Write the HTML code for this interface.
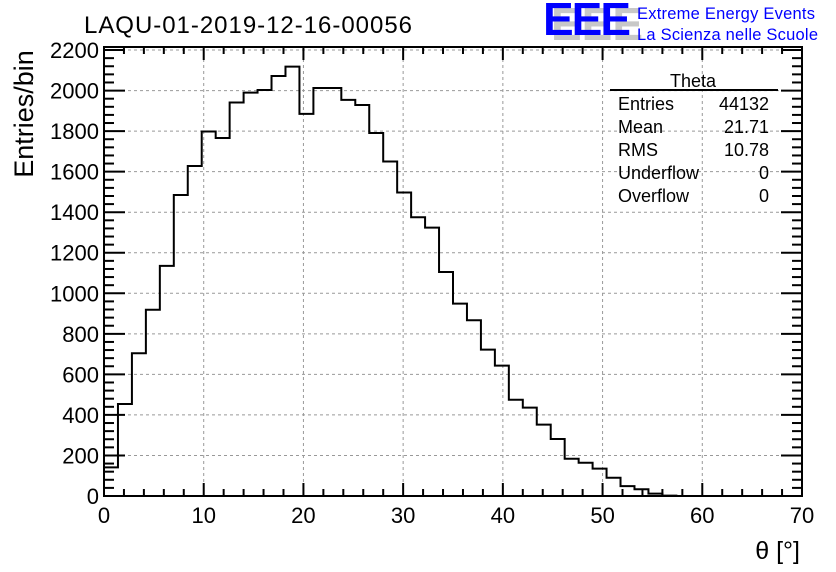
<!DOCTYPE html>
<html><head><meta charset="utf-8"><style>
body{margin:0;background:#fff;}
svg{display:block;font-family:"Liberation Sans",sans-serif;}
</style></head><body>
<svg id="chart" width="836" height="572" viewBox="0 0 836 572" xmlns="http://www.w3.org/2000/svg">
<rect width="836" height="572" fill="#fff"/>
<g id="grid"></g>
<g id="ticks"></g>
<path id="hist" fill="none" stroke="#000" stroke-width="2"/>
<rect x="104" y="47" width="698" height="449" fill="none" stroke="#000" stroke-width="2"/>
<g id="labels" font-size="22"></g>
<text x="84" y="33" font-size="24" textLength="328">LAQU-01-2019-12-16-00056</text>
<text transform="translate(33,114) rotate(-90)" font-size="27" text-anchor="middle" x="0" y="0">Entries/bin</text>
<text x="800" y="559" font-size="25" text-anchor="end">θ [°]</text>
<g>
<text x="551" y="40" font-size="46" fill="#c8c8c8" font-weight="bold" textLength="92">EEE</text>
<text x="543" y="35" font-size="46" fill="#0000ff" font-weight="bold" textLength="88">EEE</text>
<text x="637" y="19" font-size="16.5" fill="#0000ff" textLength="178">Extreme Energy Events</text>
<text x="637" y="40" font-size="16.5" fill="#0000ff" textLength="181">La Scienza nelle Scuole</text>
</g>
<g font-size="18">
<text x="693" y="87" text-anchor="middle">Theta</text>
<line x1="610" y1="90" x2="778" y2="90" stroke="#000" stroke-width="2"/>
<text x="618" y="110">Entries</text><text x="769" y="110" text-anchor="end">44132</text>
<text x="618" y="133">Mean</text><text x="769" y="133" text-anchor="end">21.71</text>
<text x="618" y="156">RMS</text><text x="769" y="156" text-anchor="end">10.78</text>
<text x="618" y="179">Underflow</text><text x="769" y="179" text-anchor="end">0</text>
<text x="618" y="202">Overflow</text><text x="769" y="202" text-anchor="end">0</text>
</g>
</svg>
<script>
const binCounts = [141,454,704,919,1135,1485,1628,1798,1766,1941,1990,2003,2072,2118,1885,2013,2013,1954,1929,1791,1650,1497,1375,1324,1105,949,867,722,643,475,436,352,281,184,164,135,90,49,33,12,2,0,0,0,0,0,0,0,0,0];
const xTicks = [0,10,20,30,40,50,60,70];
const yTicks = [0,200,400,600,800,1000,1200,1400,1600,1800,2000,2200];
const xMin = 0, xMax = 70, yMin = 0, yMax = 2215;
const L=104,R=802,T=47,B=496;
const sx = v => L + (v-xMin)/(xMax-xMin)*(R-L);
const sy = v => B - (v-yMin)/(yMax-yMin)*(B-T);
const NS="http://www.w3.org/2000/svg";
const bw=(xMax-xMin)/binCounts.length;
let d=`M${sx(0)},${sy(0)}`;
binCounts.forEach((c,i)=>{d+=` L${sx(i*bw)},${sy(c)} L${sx((i+1)*bw)},${sy(c)}`;});
d+=` L${sx(xMax)},${sy(0)}`;
document.getElementById('hist').setAttribute('d',d);
const grid=document.getElementById('grid'),ticks=document.getElementById('ticks'),labels=document.getElementById('labels');
function line(g,x1,y1,x2,y2,attrs){const l=document.createElementNS(NS,'line');l.setAttribute('x1',x1);l.setAttribute('y1',y1);l.setAttribute('x2',x2);l.setAttribute('y2',y2);for(const k in attrs)l.setAttribute(k,attrs[k]);g.appendChild(l);return l;}
xTicks.forEach(v=>{
 const x=sx(v);
 if(v>xMin&&v<xMax){const gl=line(grid,x,T,x,B,{stroke:'#999','stroke-dasharray':'3,3','stroke-width':1});
 
 }
 const t=document.createElementNS(NS,'text');t.setAttribute('x',x);t.setAttribute('y',523);t.setAttribute('text-anchor','middle');t.textContent=v;
 
 
 labels.appendChild(t);
});
for(let v=xMin;v<=xMax;v+=2){const x=sx(v);const len=(v%10===0)?13:7;
 line(ticks,x,B,x,B-len,{stroke:'#000','stroke-width':2});line(ticks,x,T,x,T+len,{stroke:'#000','stroke-width':2});}
yTicks.forEach(v=>{
 const y=sy(v);
 if(v>yMin){const gl=line(grid,L,y,R,y,{stroke:'#999','stroke-dasharray':'3,3','stroke-width':1});
 
 }
 const t=document.createElementNS(NS,'text');t.setAttribute('x',99);t.setAttribute('y',y+8);t.setAttribute('text-anchor','end');t.textContent=v;
 
 
 labels.appendChild(t);
});
for(let v=yMin;v<=yMax;v+=40){const y=sy(v);const len=(v%200===0)?21:10;
 line(ticks,L,y,L+len,y,{stroke:'#000','stroke-width':2});line(ticks,R,y,R-len,y,{stroke:'#000','stroke-width':2});}
</script>
</body></html>
